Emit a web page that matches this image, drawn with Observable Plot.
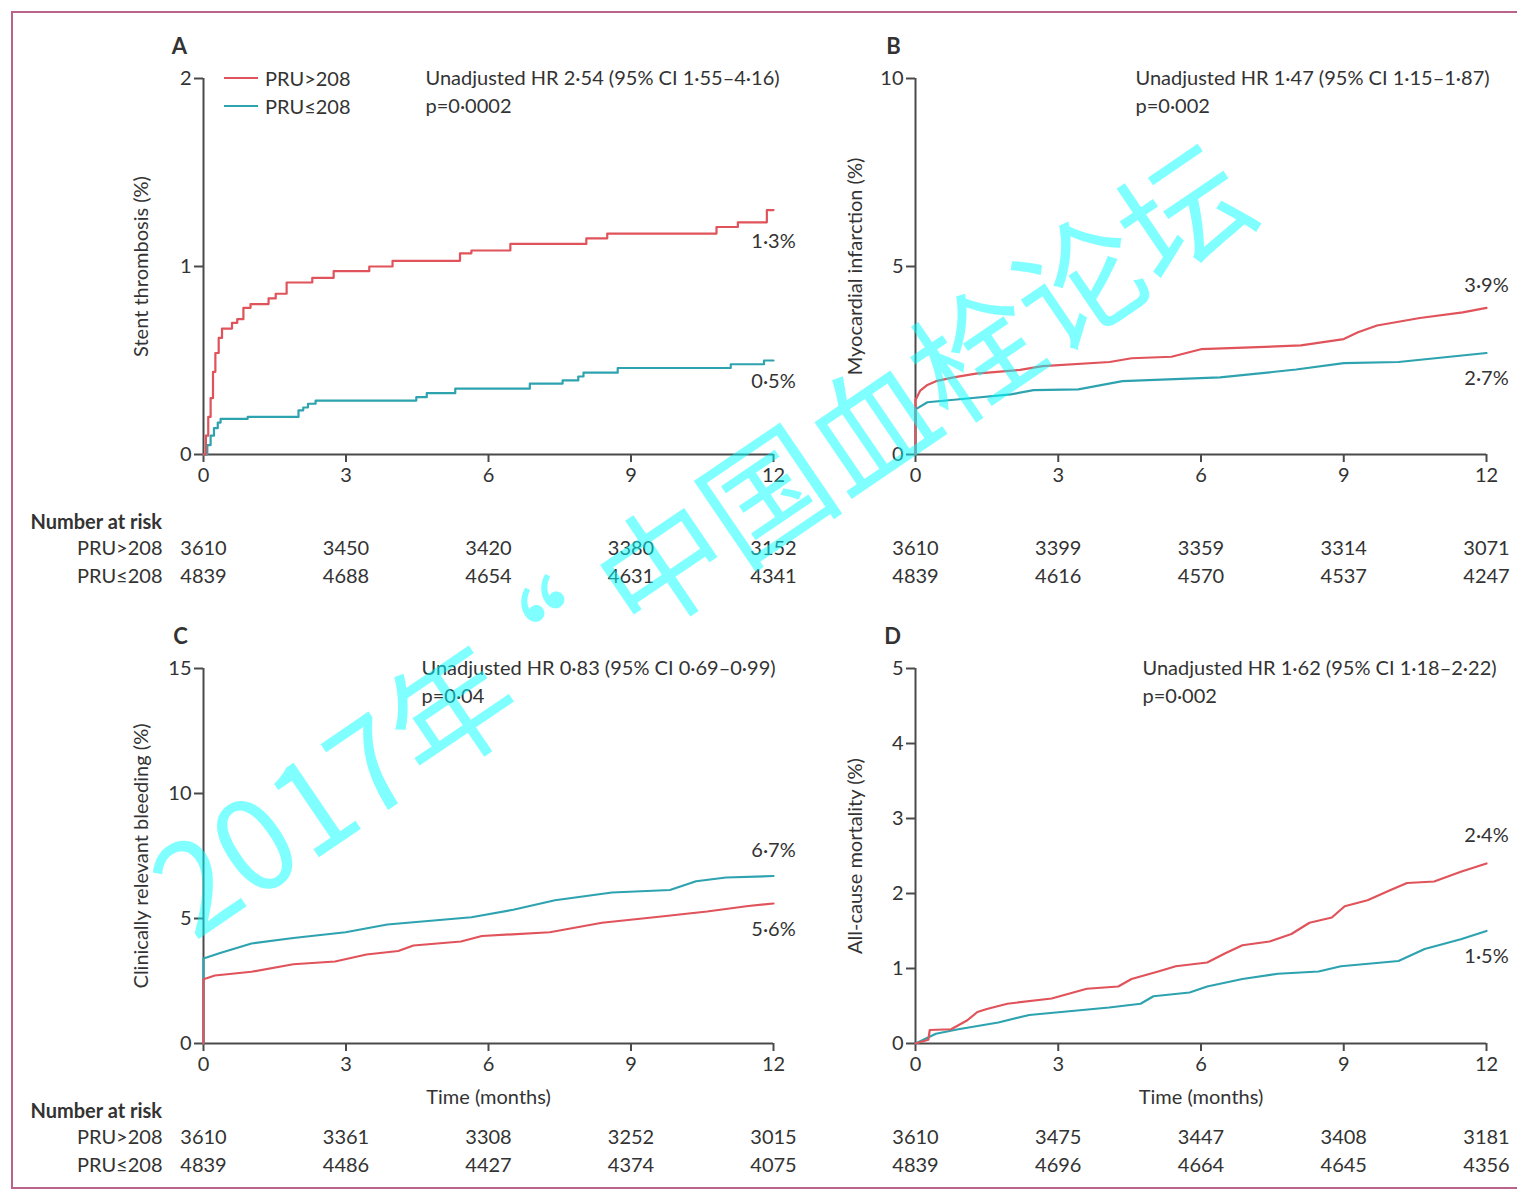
<!DOCTYPE html>
<html>
<head>
<meta charset="utf-8">
<script src="https://cdn.jsdelivr.net/npm/d3@7"></script>
<script src="https://cdn.jsdelivr.net/npm/@observablehq/plot@0.6"></script>
<style>
  body { margin: 0; background: #fff; }
  #fig { position: relative; width: 1517px; height: 1191px; overflow: hidden; background: #fff;
         font-family: Lato, "Noto Sans", sans-serif; color: #333; }
  #frame { position: absolute; left: 11px; top: 11px; width: 1530px; height: 1178px;
           border: 2.5px solid #b8648a; box-sizing: border-box; }
  .panel { position: absolute; }
  .panel svg { overflow: visible; }
  #legend { position: absolute; left: 224px; top: 64px; font-size: 20px; line-height: 28px; color: #333; }
  #legend .row { display: flex; align-items: center; height: 28px; }
  #legend .sw { display: inline-block; width: 34px; height: 0; border-top: 2px solid; margin-right: 7px; }
  #watermark { position: absolute; left: 0; top: 0; pointer-events: none; }
</style>
</head>
<body>
<div id="fig">
  <div id="frame"></div>
</div>
<script>
// ---- groups -------------------------------------------------------------
const groupHigh = "PRU>208";
const groupLow = "PRU≤208";

// ---- time axis / number-at-risk columns (months) ------------------------
const riskMonths = [0, 3, 6, 9, 12];

// ---- A: stent thrombosis, cumulative % [month, %] ----------------------
const stentHigh = [[0,0],[0.05,0.1],[0.1,0.2],[0.15,0.3],[0.2,0.44],[0.25,0.54],[0.32,0.62],[0.39,0.67],
  [0.6,0.7],[0.71,0.72],[0.84,0.78],[0.99,0.8],[1.37,0.83],[1.52,0.855],[1.75,0.915],[2.29,0.94],
  [2.74,0.975],[3.49,1.0],[3.98,1.03],[5.4,1.07],[5.64,1.085],[6.46,1.12],[8.06,1.15],[8.5,1.175],
  [10.8,1.21],[11.25,1.235],[11.86,1.3],[12,1.3]];
const stentLow = [[0,0],[0.08,0.05],[0.15,0.1],[0.22,0.14],[0.3,0.17],[0.36,0.19],[0.93,0.2],[2.0,0.235],
  [2.1,0.25],[2.2,0.27],[2.36,0.287],[4.48,0.305],[4.7,0.326],[5.3,0.35],[6.87,0.377],[7.56,0.394],
  [7.89,0.415],[8.0,0.435],[8.72,0.46],[11.1,0.48],[11.8,0.5],[12,0.5]];
const stentRiskHigh = [3610, 3450, 3420, 3380, 3152];
const stentRiskLow = [4839, 4688, 4654, 4631, 4341];
const stentHR = "Unadjusted HR 2·54 (95% CI 1·55–4·16)";
const stentP = "p=0·0002";

// ---- B: myocardial infarction ------------------------------------------
const miHigh = [[0,0],[0,1.45],[0.1,1.7],[0.25,1.85],[0.43,1.95],[0.8,2.05],[1.27,2.15],[2.2,2.25],
  [2.67,2.35],[4.08,2.46],[4.54,2.56],[5.38,2.6],[6.0,2.8],[8.1,2.9],[9.0,3.07],[9.3,3.25],[9.7,3.43],
  [10.6,3.63],[11.5,3.78],[12,3.9]];
const miLow = [[0,0],[0,1.2],[0.25,1.39],[1.09,1.49],[2.0,1.6],[2.48,1.71],[3.42,1.73],[4.35,1.95],
  [6.4,2.05],[8.0,2.26],[9.0,2.43],[10.15,2.46],[12,2.7]];
const miRiskHigh = [3610, 3399, 3359, 3314, 3071];
const miRiskLow = [4839, 4616, 4570, 4537, 4247];
const miHR = "Unadjusted HR 1·47 (95% CI 1·15–1·87)";
const miP = "p=0·002";

// ---- C: clinically relevant bleeding -----------------------------------
const bleedHigh = [[0,0],[0,2.57],[0.24,2.72],[1.01,2.87],[1.89,3.17],[2.77,3.28],[3.43,3.56],[4.1,3.7],
  [4.42,3.92],[5.42,4.08],[5.86,4.3],[7.29,4.45],[8.39,4.83],[9.49,5.05],[10.6,5.28],[11.47,5.5],[12,5.6]];
const bleedLow = [[0,0],[0,3.4],[0.35,3.62],[1.01,4.0],[1.89,4.22],[2.99,4.45],[3.87,4.76],[5.64,5.05],
  [6.52,5.35],[7.4,5.73],[8.6,6.04],[9.82,6.14],[10.37,6.49],[11.0,6.64],[12,6.7]];
const bleedRiskHigh = [3610, 3361, 3308, 3252, 3015];
const bleedRiskLow = [4839, 4486, 4427, 4374, 4075];
const bleedHR = "Unadjusted HR 0·83 (95% CI 0·69–0·99)";
const bleedP = "p=0·04";

// ---- D: all-cause mortality --------------------------------------------
const deathHigh = [[0,0],[0.27,0.05],[0.3,0.18],[0.75,0.19],[1.09,0.31],[1.3,0.42],[1.5,0.46],[1.93,0.53],
  [2.86,0.6],[3.6,0.73],[4.26,0.76],[4.54,0.86],[5.1,0.96],[5.47,1.03],[6.13,1.08],[6.5,1.2],[6.87,1.31],
  [7.44,1.36],[7.9,1.46],[8.28,1.61],[8.75,1.68],[9.02,1.83],[9.5,1.91],[9.96,2.04],[10.33,2.14],
  [10.9,2.16],[11.46,2.29],[12,2.4]];
const deathLow = [[0,0],[0.43,0.13],[0.9,0.19],[1.74,0.28],[2.39,0.38],[3.23,0.43],[4.07,0.48],[4.73,0.53],
  [5.0,0.63],[5.76,0.68],[6.13,0.76],[6.87,0.86],[7.62,0.93],[8.47,0.96],[8.94,1.03],[10.15,1.1],
  [10.7,1.26],[11.46,1.39],[12,1.5]];
const deathRiskHigh = [3610, 3475, 3447, 3408, 3181];
const deathRiskLow = [4839, 4696, 4664, 4645, 4356];
const deathHR = "Unadjusted HR 1·62 (95% CI 1·18–2·22)";
const deathP = "p=0·002";

// ---- styling -------------------------------------------------------------
const RED = "#e0535a";
const TEAL = "#2ea3b0";
const INK = "#333";
const AXIS = "#4a4a4a";
const fmtPct = v => v.toFixed(1).replace(".", "·") + "%";
const last = s => s[s.length - 1];

// free-standing label anchored to the plot frame
const label = (str, opts) => Plot.text([str], {text: d => d, lineAnchor: "middle", fill: INK, ...opts});

function drawPanel(cfg) {
  const curve = cfg.stepped ? "step-after" : "linear";
  const marks = [
    Plot.ruleY([0], {stroke: AXIS, strokeWidth: 2}),
    Plot.ruleX([0], {stroke: AXIS, strokeWidth: 2}),
    Plot.axisX({ticks: riskMonths, tickSize: 8, tickPadding: 5, tickFormat: d => d,
      stroke: AXIS, strokeWidth: 2, fill: INK, label: null}),
    Plot.axisY({ticks: cfg.yTicks, tickSize: 9, tickPadding: 3, tickFormat: d => d,
      stroke: AXIS, strokeWidth: 2, fill: INK, label: null}),
    Plot.line(cfg.low, {x: d => d[0], y: d => d[1], stroke: TEAL, strokeWidth: 2.2, curve}),
    Plot.line(cfg.high, {x: d => d[0], y: d => d[1], stroke: RED, strokeWidth: 2.2, curve}),
    // end-of-follow-up percentages
    Plot.text([last(cfg.high)], {x: d => d[0], y: d => d[1], text: d => fmtPct(d[1]), dy: cfg.endDy[0], fill: INK}),
    Plot.text([last(cfg.low)], {x: d => d[0], y: d => d[1], text: d => fmtPct(d[1]), dy: cfg.endDy[1], fill: INK}),
    // panel letter, y label, hazard ratio
    label(cfg.letter, {frameAnchor: "top-left", textAnchor: "middle", dx: cfg.letterDx, dy: -32,
      fontWeight: "bold", fontSize: 22}),
    label(cfg.yLabel, {frameAnchor: "left", textAnchor: "middle", dx: cfg.yLabelDx, rotate: -90}),
    label(cfg.hr, {frameAnchor: "top-left", textAnchor: "start", dx: cfg.hrDx, dy: 0}),
    label(cfg.p, {frameAnchor: "top-left", textAnchor: "start", dx: cfg.hrDx, dy: 28}),
    // number at risk
    Plot.text(riskMonths, {x: d => d, text: (d, i) => String(cfg.riskHigh[i]), frameAnchor: "bottom",
      lineAnchor: "middle", dy: 94, fill: INK}),
    Plot.text(riskMonths, {x: d => d, text: (d, i) => String(cfg.riskLow[i]), frameAnchor: "bottom",
      lineAnchor: "middle", dy: 122, fill: INK})
  ];
  if (cfg.rowLabels) {
    marks.push(
      label("Number at risk", {frameAnchor: "bottom-left", textAnchor: "start", dx: -173, dy: 68, fontWeight: "bold"}),
      label(groupHigh, {frameAnchor: "bottom-left", textAnchor: "end", dx: -41, dy: 94}),
      label(groupLow, {frameAnchor: "bottom-left", textAnchor: "end", dx: -41, dy: 122})
    );
  }
  if (cfg.timeLabel) {
    marks.push(label("Time (months)", {frameAnchor: "bottom", textAnchor: "middle", dy: 54}));
  }
  const chart = Plot.plot({
    width: cfg.width,
    height: cfg.height,
    marginLeft: cfg.marginLeft,
    marginRight: cfg.marginRight,
    marginTop: 78,
    marginBottom: cfg.marginBottom,
    style: {fontFamily: "Lato, 'Noto Sans', sans-serif", fontSize: "20px", background: "transparent",
      overflow: "visible", color: INK},
    x: {domain: [0, 12]},
    y: {domain: [0, cfg.yMax]},
    marks
  });
  const wrap = document.createElement("div");
  wrap.className = "panel";
  wrap.style.left = cfg.left + "px";
  wrap.style.top = cfg.top + "px";
  wrap.appendChild(chart);
  document.getElementById("fig").appendChild(wrap);
}

drawPanel({letter: "A", high: stentHigh, low: stentLow, yMax: 2, yTicks: [0, 1, 2],
  yLabel: "Stent thrombosis (%)", hr: stentHR, p: stentP, riskHigh: stentRiskHigh, riskLow: stentRiskLow,
  stepped: true, rowLabels: true, timeLabel: false, endDy: [31, 21], hrDx: 222, letterDx: -24, yLabelDx: -62,
  left: 0, top: 0, width: 820, height: 600, marginLeft: 203, marginRight: 47, marginBottom: 146});

drawPanel({letter: "B", high: miHigh, low: miLow, yMax: 10, yTicks: [0, 5, 10],
  yLabel: "Myocardial infarction (%)", hr: miHR, p: miP, riskHigh: miRiskHigh, riskLow: miRiskLow,
  stepped: false, rowLabels: false, timeLabel: false, endDy: [-22, 26], hrDx: 220, letterDx: -22, yLabelDx: -60,
  left: 820, top: 0, width: 697, height: 600, marginLeft: 95, marginRight: 31, marginBottom: 146});

drawPanel({letter: "C", high: bleedHigh, low: bleedLow, yMax: 15, yTicks: [0, 5, 10, 15],
  yLabel: "Clinically relevant bleeding (%)", hr: bleedHR, p: bleedP, riskHigh: bleedRiskHigh, riskLow: bleedRiskLow,
  stepped: false, rowLabels: true, timeLabel: true, endDy: [26, -25], hrDx: 218, letterDx: -23, yLabelDx: -62,
  left: 0, top: 590, width: 820, height: 601, marginLeft: 203, marginRight: 47, marginBottom: 148});

drawPanel({letter: "D", high: deathHigh, low: deathLow, yMax: 5, yTicks: [0, 1, 2, 3, 4, 5],
  yLabel: "All-cause mortality (%)", hr: deathHR, p: deathP, riskHigh: deathRiskHigh, riskLow: deathRiskLow,
  stepped: false, rowLabels: false, timeLabel: true, endDy: [-28, 26], hrDx: 227, letterDx: -23, yLabelDx: -60,
  left: 820, top: 590, width: 697, height: 601, marginLeft: 95, marginRight: 31, marginBottom: 148});

// legend for panel A
const legend = document.createElement("div");
legend.id = "legend";
for (const [name, color] of [[groupHigh, RED], [groupLow, TEAL]]) {
  const row = document.createElement("div");
  row.className = "row";
  const sw = document.createElement("span");
  sw.className = "sw";
  sw.style.borderTopColor = color;
  row.appendChild(sw);
  row.appendChild(document.createTextNode(name));
  legend.appendChild(row);
}
document.getElementById("fig").appendChild(legend);

// forum watermark across the figure
const wm = d3.select("#fig").append("svg").attr("id", "watermark").attr("width", 1517).attr("height", 1191);
const wmText = wm.append("text")
  .attr("transform", "translate(194,942) rotate(-34.2)")
  .attr("font-family", "'Noto Sans CJK SC', sans-serif")
  .attr("font-size", 126)
  .attr("fill", "#00ffff")
  .attr("fill-opacity", 0.5);
wmText.append("tspan").text("2017年");
wmText.append("tspan").attr("dx", -27).text("“");
wmText.append("tspan").attr("dx", 31).text("中国血栓论坛");
</script>
</body>
</html>
